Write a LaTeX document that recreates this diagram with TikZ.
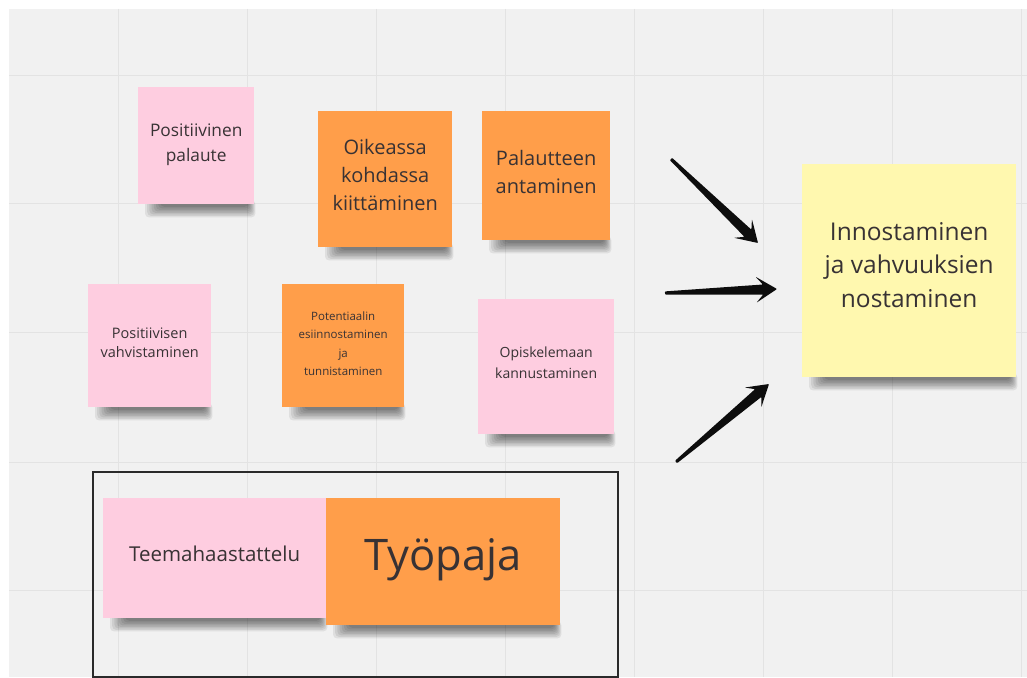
\documentclass[tikz,border=0pt]{standalone}
\usepackage{fontspec}
\setmainfont{Open Sans}
\usetikzlibrary{calc}

\definecolor{board}{HTML}{F1F1F1}
\definecolor{gridline}{HTML}{E3E3E3}
\definecolor{notepink}{HTML}{FECDE0}
\definecolor{noteorange}{HTML}{FF9E4A}
\definecolor{noteyellow}{HTML}{FFF8AF}
\definecolor{inktext}{HTML}{383234}
\definecolor{arrowink}{HTML}{0D0D0D}
\definecolor{frameink}{HTML}{2A2A2A}

\pgfdeclarelayer{boardlayer}
\pgfdeclarelayer{shadelayer}
\pgfsetlayers{boardlayer,shadelayer,main}

\tikzset{
  sticky/.style={rectangle, draw=none, inner sep=0pt, anchor=north west},
  notelabel/.style={inner sep=0pt, align=center, text=inktext},
  groupframe/.style={rectangle, draw=frameink, line width=1.7pt,
    anchor=north west, inner sep=0pt},
  notesoft/.style={black, opacity=0.075, rounded corners=4pt},
}

% #1 name, #2-#5 box (left, top, right, bottom), #6 fill,
% #7 font, #8 lift of the text above the centre, #9 text
\newcommand\stickynote[9]{%
  \pgfmathsetmacro\notew{#4-#2}%
  \pgfmathsetmacro\noteh{#5-#3}%
  \node[sticky, fill=#6, minimum width=\notew pt, minimum height=\noteh pt]
    (#1) at (#2,#3) {};
  \node[notelabel, font=#7] (#1-text) at ($(#1.center)+(0,-#8)$) {#9};
  \begin{pgfonlayer}{shadelayer}
    \foreach \k in {0,...,7} {
      \fill[notesoft] ($(#1.south west)+(7+2.2*\k,-4)$)
        rectangle ($(#1.south east)+(1-\k,13-1.5*\k)$);
    }
  \end{pgfonlayer}
}

% tapered arrow with a barbed head, from #1 to #2
\newcommand\taperarrow[2]{%
  \path ($(#2)!14pt!(#1)$) coordinate (ahnotch)
        ($(#2)!21pt!(#1)$) coordinate (ahback);
  \fill[arrowink, rounded corners=0.8pt]
    ($(#1)!1.6pt!90:(#2)$) --
    ($(ahnotch)!5pt!90:(#2)$) --
    ($(ahback)!13pt!90:(#2)$) --
    (#2) --
    ($(ahback)!13pt!-90:(#2)$) --
    ($(ahnotch)!5pt!-90:(#2)$) --
    ($(#1)!1.6pt!-90:(#2)$) -- cycle;
}

\begin{document}
\begin{tikzpicture}[x=1pt,y=-1pt]
\useasboundingbox (0,0) rectangle (1027,677);

% whiteboard with its grid
\begin{pgfonlayer}{boardlayer}
  \fill[white] (0,0) rectangle (1027,677);
  \fill[board] (9,9) rectangle (1027,677);
  \foreach \gx in {118,247,376,505,634,763,892,1021}
    \draw[gridline, line width=1pt] (\gx,9) -- (\gx,677);
  \foreach \gy in {75,203,332,462,590}
    \draw[gridline, line width=1pt] (9,\gy) -- (1027,\gy);
\end{pgfonlayer}

% sticky notes
\stickynote{pospal}{138}{87}{254}{204}{notepink}{\fontsize{17.3}{25}\selectfont}{1}{Positiivinen\\palaute}
\stickynote{oikea}{318}{111}{452}{247}{noteorange}{\fontsize{20}{28}\selectfont}{4}{Oikeassa\\kohdassa\\kiittäminen}
\stickynote{palaut}{482}{111}{610}{240}{noteorange}{\fontsize{20}{28}\selectfont}{4}{Palautteen\\antaminen}
\stickynote{posvah}{88}{284}{211}{407}{notepink}{\fontsize{14.5}{19.5}\selectfont}{3}{Positiivisen\\vahvistaminen}
\stickynote{potent}{282}{284}{404}{407}{noteorange}{\fontsize{11.5}{18.5}\selectfont}{2}{Potentiaalin\\esiinnostaminen\\ja\\tunnistaminen}
\stickynote{opisk}{478}{299}{614}{434}{notepink}{\fontsize{14}{21}\selectfont}{4}{Opiskelemaan\\kannustaminen}
\stickynote{innost}{802}{164}{1016}{377}{noteyellow}{\fontsize{24.5}{33.5}\selectfont}{6}{Innostaminen\\ja vahvuuksien\\nostaminen}

% grouped pair inside a frame
\node[groupframe, minimum width=525pt, minimum height=205pt] (group) at (92,471) {};
\stickynote{teema}{103}{498}{326}{618}{notepink}{\fontsize{20.5}{24}\selectfont}{4}{Teemahaastattelu}
\stickynote{tyopaja}{326}{498}{560}{625}{noteorange}{\fontsize{43.5}{50}\selectfont}{2}{Työpaja}

% arrows towards the result note
\coordinate (a1tail) at (671,159);
\coordinate (a1tip)  at (758,243);
\coordinate (a2tail) at (665,293);
\coordinate (a2tip)  at (777,289);
\coordinate (a3tail) at (676,462);
\coordinate (a3tip)  at (769,384);
\taperarrow{a1tail}{a1tip}
\taperarrow{a2tail}{a2tip}
\taperarrow{a3tail}{a3tip}
\end{tikzpicture}
\end{document}
